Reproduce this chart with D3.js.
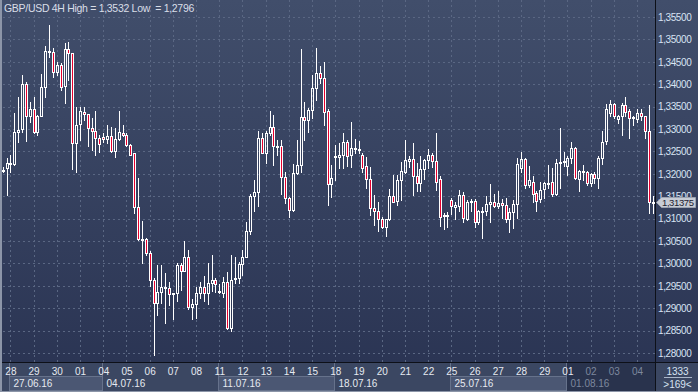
<!DOCTYPE html>
<html>
<head>
<meta charset="utf-8">
<script src="https://cdn.jsdelivr.net/npm/d3@7"></script>
<style>
  html, body { margin: 0; padding: 0; background: #2f3a58; }
  svg { display: block; }
  text { font-family: "Liberation Sans", Arial, sans-serif; }
</style>
</head>
<body>
<svg id="chart" width="698" height="392"></svg>
<script>
// GBP/USD 4H candles, 27.06.16 16:00 .. 04.08.16 16:00
var open = [1.3209,1.3214,1.3223,1.3222,1.3293,1.3299,1.3400,1.3328,1.3344,1.3294,
1.3330,1.3393,1.3471,1.3471,1.3428,1.3442,1.3395,1.3478,1.3469,1.3268,
1.3311,1.3339,1.3333,1.3302,1.3296,1.3281,1.3282,1.3277,1.3284,1.3251,
1.3278,1.3292,1.3287,1.3264,1.3246,1.3127,1.3052,1.3055,1.3023,1.2963,
1.2911,1.2937,1.2948,1.2944,1.2932,1.2933,1.2996,1.2984,1.3014,1.2902,
1.2909,1.2935,1.2947,1.2935,1.2956,1.2963,1.2936,1.2935,1.2959,1.2855,
1.2965,1.2967,1.2998,1.3015,1.3072,1.3150,1.3160,1.3281,1.3247,1.3290,
1.3305,1.3261,1.3262,1.3192,1.3147,1.3119,1.3201,1.3219,1.3326,1.3320,
1.3342,1.3391,1.3424,1.3413,1.3341,1.3177,1.3237,1.3238,1.3242,1.3270,
1.3242,1.3255,1.3254,1.3242,1.3217,1.3188,1.3123,1.3118,1.3100,1.3082,
1.3098,1.3150,1.3139,1.3186,1.3205,1.3229,1.3233,1.3195,1.3180,1.3210,
1.3231,1.3243,1.3229,1.3188,1.3105,1.3107,1.3142,1.3127,1.3129,1.3153,
1.3099,1.3139,1.3139,1.3093,1.3117,1.3116,1.3132,1.3138,1.3129,1.3135,
1.3130,1.3099,1.3114,1.3132,1.3212,1.3232,1.3174,1.3181,1.3158,1.3143,
1.3165,1.3178,1.3181,1.3155,1.3223,1.3226,1.3218,1.3235,1.3257,1.3188,
1.3207,1.3203,1.3179,1.3199,1.3190,1.3235,1.3274,1.3335,1.3355,1.3322,
1.3328,1.3354,1.3341,1.3324,1.3322,1.3335,1.3328,1.3296,1.3136];
var high = [1.3216,1.3235,1.3242,1.3335,1.3371,1.3421,1.3406,1.3361,1.3371,1.3331,
1.3422,1.3485,1.3532,1.3480,1.3450,1.3448,1.3493,1.3494,1.3470,1.3350,
1.3350,1.3350,1.3334,1.3324,1.3341,1.3287,1.3290,1.3309,1.3305,1.3302,
1.3340,1.3309,1.3290,1.3267,1.3247,1.3190,1.3095,1.3056,1.3028,1.2967,
1.2996,1.2996,1.2978,1.2959,1.2935,1.3000,1.3000,1.3049,1.3031,1.2920,
1.2948,1.2959,1.2972,1.3000,1.3019,1.2967,1.2953,1.2970,1.2980,1.3019,
1.3015,1.3004,1.3030,1.3092,1.3156,1.3186,1.3296,1.3290,1.3296,1.3341,
1.3331,1.3275,1.3275,1.3205,1.3149,1.3221,1.3275,1.3479,1.3361,1.3346,
1.3421,1.3480,1.3441,1.3449,1.3344,1.3220,1.3264,1.3268,1.3290,1.3275,
1.3315,1.3278,1.3273,1.3246,1.3238,1.3216,1.3153,1.3138,1.3103,1.3098,
1.3165,1.3197,1.3197,1.3227,1.3275,1.3240,1.3268,1.3225,1.3240,1.3233,
1.3255,1.3247,1.3290,1.3194,1.3113,1.3114,1.3145,1.3136,1.3164,1.3160,
1.3142,1.3144,1.3143,1.3119,1.3125,1.3150,1.3177,1.3155,1.3162,1.3144,
1.3147,1.3123,1.3142,1.3236,1.3249,1.3235,1.3218,1.3194,1.3162,1.3181,
1.3181,1.3220,1.3214,1.3232,1.3303,1.3249,1.3240,1.3272,1.3259,1.3209,
1.3220,1.3206,1.3201,1.3203,1.3240,1.3296,1.3355,1.3365,1.3357,1.3331,
1.3359,1.3371,1.3344,1.3329,1.3344,1.3344,1.3329,1.3354,1.3150];
var low = [1.3203,1.3153,1.3203,1.3220,1.3272,1.3294,1.3274,1.3316,1.3292,1.3287,
1.3328,1.3372,1.3460,1.3417,1.3421,1.3387,1.3359,1.3409,1.3211,1.3205,
1.3275,1.3320,1.3261,1.3253,1.3242,1.3249,1.3272,1.3268,1.3249,1.3238,
1.3275,1.3285,1.3262,1.3242,1.3113,1.3052,1.3000,1.3019,1.2950,1.2796,
1.2885,1.2911,1.2866,1.2907,1.2876,1.2915,1.2941,1.2982,1.2898,1.2877,
1.2879,1.2922,1.2917,1.2909,1.2939,1.2937,1.2933,1.2926,1.2854,1.2850,
1.2956,1.2956,1.2973,1.3014,1.3066,1.3118,1.3129,1.3246,1.3225,1.3287,
1.3220,1.3242,1.3156,1.3134,1.3104,1.3118,1.3200,1.3205,1.3275,1.3294,
1.3324,1.3365,1.3402,1.3309,1.3130,1.3149,1.3186,1.3212,1.3212,1.3218,
1.3216,1.3246,1.3246,1.3203,1.3169,1.3107,1.3086,1.3073,1.3078,1.3062,
1.3097,1.3136,1.3130,1.3142,1.3201,1.3216,1.3153,1.3162,1.3162,1.3188,
1.3212,1.3216,1.3164,1.3084,1.3077,1.3082,1.3110,1.3098,1.3118,1.3093,
1.3097,1.3116,1.3082,1.3087,1.3057,1.3107,1.3093,1.3127,1.3123,1.3102,
1.3093,1.3071,1.3080,1.3102,1.3203,1.3168,1.3171,1.3136,1.3116,1.3138,
1.3147,1.3168,1.3151,1.3153,1.3169,1.3218,1.3197,1.3225,1.3189,1.3162,
1.3186,1.3174,1.3173,1.3179,1.3169,1.3221,1.3267,1.3328,1.3325,1.3314,
1.3287,1.3330,1.3281,1.3309,1.3316,1.3321,1.3279,1.3112,1.3112];
var close = [1.3208,1.3223,1.3224,1.3293,1.3298,1.3400,1.3328,1.3344,1.3294,1.3329,
1.3393,1.3473,1.3474,1.3428,1.3442,1.3393,1.3478,1.3469,1.3268,1.3310,
1.3340,1.3333,1.3302,1.3296,1.3281,1.3267,1.3278,1.3284,1.3251,1.3278,
1.3293,1.3287,1.3264,1.3243,1.3127,1.3054,1.3055,1.3023,1.2963,1.2911,
1.2937,1.2948,1.2944,1.2932,1.2933,1.2996,1.2984,1.3014,1.2902,1.2909,
1.2935,1.2947,1.2935,1.2956,1.2963,1.2953,1.2938,1.2959,1.2855,1.2964,
1.2968,1.2998,1.3014,1.3072,1.3150,1.3160,1.3281,1.3247,1.3290,1.3304,
1.3262,1.3262,1.3192,1.3147,1.3119,1.3201,1.3220,1.3326,1.3320,1.3342,
1.3391,1.3424,1.3413,1.3339,1.3177,1.3190,1.3239,1.3243,1.3270,1.3240,
1.3257,1.3257,1.3255,1.3214,1.3188,1.3123,1.3118,1.3100,1.3082,1.3098,
1.3150,1.3138,1.3186,1.3206,1.3231,1.3234,1.3194,1.3180,1.3210,1.3231,
1.3243,1.3229,1.3181,1.3104,1.3107,1.3105,1.3128,1.3130,1.3153,1.3101,
1.3138,1.3136,1.3093,1.3118,1.3118,1.3133,1.3138,1.3129,1.3135,1.3130,
1.3099,1.3114,1.3133,1.3221,1.3232,1.3175,1.3186,1.3156,1.3140,1.3164,
1.3179,1.3180,1.3156,1.3223,1.3227,1.3228,1.3236,1.3257,1.3190,1.3207,
1.3203,1.3179,1.3199,1.3190,1.3235,1.3272,1.3344,1.3355,1.3328,1.3328,
1.3354,1.3339,1.3325,1.3326,1.3335,1.3328,1.3296,1.3136,1.31375];

var dayLabels = ["28","29","30","01","04","05","06","07","08","11","12","13","14","15",
  "18","19","20","21","22","25","26","27","28","29","01","02","03","04"];
var weekLabels = ["27.06.16","04.07.16","11.07.16","18.07.16","25.07.16","01.08.16"];
var weekFirstDay = [0, 4, 9, 14, 19, 24];   // index into dayLabels
var priceTicks = d3.range(1.28, 1.35501, 0.005);
var title = "GBP/USD 4H High = 1,3532 Low  = 1,2796";
var barsTotal = "1333", barsVisible = ">169<";
var lastPrice = close[close.length - 1];

var svg = d3.select("#chart"),
    width = +svg.attr("width"),
    height = +svg.attr("height");

var plotRight = 655, axisTop = 362, firstDayBar = 2, barsPerDay = 6;
var n = open.length;

var x = d3.scaleLinear().domain([0, n - 1]).range([2.66, 652.5]);
var y = d3.scaleLinear().domain([1.28, 1.355]).range([353, 17]);
var comma = function(v, p) { return d3.format("." + p + "f")(v).replace(".", ","); };
var dayX = function(k) { return x(firstDayBar + k * barsPerDay); };

var defs = svg.append("defs");
var grad = defs.append("linearGradient").attr("id", "bg")
    .attr("x1", 0).attr("y1", 0).attr("x2", 0).attr("y2", 1);
grad.append("stop").attr("offset", "0%").attr("stop-color", "#414e6b");
grad.append("stop").attr("offset", "100%").attr("stop-color", "#2b3554");
defs.append("clipPath").attr("id", "plotclip")
  .append("rect").attr("x", 2).attr("y", 0).attr("width", plotRight - 2).attr("height", axisTop);

// backgrounds
svg.append("rect").attr("width", width).attr("height", axisTop).attr("fill", "url(#bg)");
svg.append("rect").attr("y", axisTop).attr("width", width).attr("height", height - axisTop)
    .attr("fill", "#3b4762");

// grid
var grid = svg.append("g").attr("stroke", "#5a6783").attr("stroke-dasharray", "2,3")
    .attr("stroke-width", 1).attr("shape-rendering", "crispEdges");
grid.selectAll(".hg").data(priceTicks).enter().append("line")
    .attr("x1", 3).attr("x2", plotRight)
    .attr("y1", function(d) { return Math.round(y(d)) + 0.5; })
    .attr("y2", function(d) { return Math.round(y(d)) + 0.5; });
grid.selectAll(".vg").data(dayLabels).enter().append("line")
    .attr("y1", 0).attr("y2", axisTop)
    .attr("x1", function(d, k) { return Math.round(dayX(k)) + 0.5; })
    .attr("x2", function(d, k) { return Math.round(dayX(k)) + 0.5; });

// candles
var bars = d3.range(n).map(function(i) {
  return {i: i, o: open[i], h: high[i], l: low[i], c: close[i]};
});
var cg = svg.append("g").attr("clip-path", "url(#plotclip)").attr("shape-rendering", "crispEdges");
var candle = cg.selectAll(".candle").data(bars).enter().append("g").attr("class", "candle");
function geom(d) {
  var cx = Math.round(x(d.i));
  var top = Math.round(y(Math.max(d.o, d.c)));
  var bot = Math.round(y(Math.min(d.o, d.c)));
  return {cx: cx, top: top, h: Math.max(1, bot - top)};
}
candle.append("line")
    .attr("stroke", "#ffffff")
    .attr("x1", function(d) { return geom(d).cx + 0.5; })
    .attr("x2", function(d) { return geom(d).cx + 0.5; })
    .attr("y1", function(d) { return Math.round(y(d.h)); })
    .attr("y2", function(d) { return geom(d).top; });
candle.append("line")
    .attr("stroke", "#ffffff")
    .attr("x1", function(d) { return geom(d).cx + 0.5; })
    .attr("x2", function(d) { return geom(d).cx + 0.5; })
    .attr("y1", function(d) { var g = geom(d); return g.top + g.h + 1; })
    .attr("y2", function(d) { return Math.round(y(d.l)) + 1; });
candle.append("rect")
    .attr("x", function(d) { return geom(d).cx - 0.5; })
    .attr("y", function(d) { return geom(d).top + 0.5; })
    .attr("width", 2)
    .attr("height", function(d) { return geom(d).h; })
    .attr("fill", function(d) { return d.c >= d.o ? "none" : "#e6002e"; })
    .attr("stroke", "#ffffff");

// title
svg.append("text").attr("x", 4).attr("y", 12)
    .attr("fill", "#d9dee8").attr("font-size", 10.5).attr("letter-spacing", -0.3)
    .style("white-space", "pre").text(title);

// bottom axis: week boxes and separators
var weekEdge = function(w) {
  if (w >= weekFirstDay.length) return plotRight;
  return Math.max(6, Math.round(dayX(weekFirstDay[w]) - 1.5)) + 0.5;
};
var lastWeek = weekLabels.length - 1;
svg.append("rect").attr("x", weekEdge(lastWeek)).attr("y", axisTop + 1)
    .attr("width", plotRight - weekEdge(lastWeek)).attr("height", height - axisTop - 2)
    .attr("fill", "#29334d");
var wk = svg.append("g");
wk.selectAll("rect").data(weekLabels.filter(function(d, w) { return w % 2 === 0 && w < lastWeek; }))
  .enter().append("rect")
    .attr("x", function(d) { return weekEdge(weekLabels.indexOf(d)); })
    .attr("y", 376.5)
    .attr("width", function(d) { var w = weekLabels.indexOf(d); return weekEdge(w + 1) - weekEdge(w); })
    .attr("height", 14)
    .attr("fill", "#4b5773").attr("stroke", "#66728b");
wk.selectAll("line").data(weekLabels).enter().append("line")
    .attr("x1", function(d, w) { return weekEdge(w); })
    .attr("x2", function(d, w) { return weekEdge(w); })
    .attr("y1", axisTop).attr("y2", height - 1)
    .attr("stroke", "#66728b");
wk.selectAll("text").data(weekLabels).enter().append("text")
    .attr("x", function(d, w) { return weekEdge(w) + 4; })
    .attr("y", 383.5).attr("dy", "0.35em")
    .attr("font-size", 10)
    .attr("fill", function(d, w) { return w === lastWeek ? "#7d889e" : "#e6eaf1"; })
    .text(function(d) { return d; });

svg.append("g").selectAll("text").data(dayLabels).enter().append("text")
    .attr("x", function(d, k) { return dayX(k) + 0.5; })
    .attr("y", 371.5).attr("dy", "0.35em")
    .attr("text-anchor", "middle").attr("font-size", 10)
    .attr("fill", function(d, k) { return k > weekFirstDay[lastWeek] ? "#7d889e" : "#e6eaf1"; })
    .text(function(d) { return d; });

// right price axis
var axisG = svg.append("g").attr("transform", "translate(" + (plotRight + 1) + ",0)");
var yAxis = d3.axisRight(y).tickValues(priceTicks).tickSize(0).tickPadding(2)
    .tickFormat(function(d) { return comma(d, 5); });
axisG.call(yAxis);
axisG.select(".domain").remove();
axisG.selectAll("text").attr("fill", "#d8e3f3").attr("font-size", 10).attr("letter-spacing", -0.4)
    .attr("font-family", "Liberation Sans, Arial, sans-serif");

// frame lines
svg.append("line").attr("x1", 0).attr("x2", width).attr("y1", axisTop + 0.5).attr("y2", axisTop + 0.5)
    .attr("stroke", "#0d1018");
svg.append("line").attr("x1", plotRight + 0.5).attr("x2", plotRight + 0.5).attr("y1", 0).attr("y2", height)
    .attr("stroke", "#0d1018");
svg.append("rect").attr("x", 0).attr("y", 0).attr("width", 2).attr("height", height).attr("fill", "#8c95a8");
svg.append("rect").attr("x", 0).attr("y", height - 1).attr("width", width).attr("height", 1).attr("fill", "#8c95a8");

// corner: bar counts
var cx0 = (plotRight + width) / 2 + 1;
svg.append("text").attr("x", cx0).attr("y", 371).attr("dy", "0.35em").attr("text-anchor", "middle")
    .attr("font-size", 10).attr("fill", "#d8e3f3").text(barsTotal);
svg.append("line").attr("x1", 664).attr("x2", 692).attr("y1", 377.5).attr("y2", 377.5).attr("stroke", "#aab6c9");
svg.append("text").attr("x", cx0).attr("y", 384.5).attr("dy", "0.35em").attr("text-anchor", "middle")
    .attr("font-size", 10).attr("fill", "#d8e3f3").text(barsVisible);

// last price tag (drawn over the 1,31500 label, as in the terminal)
var ly = Math.round(y(lastPrice)) + 0.5;
svg.append("path")
    .attr("d", d3.line()([[plotRight + 1.5, ly], [plotRight + 6.5, ly - 5], [695.5, ly - 5], [695.5, ly + 5], [plotRight + 6.5, ly + 5]]) + "Z")
    .attr("fill", "#c7ccd5").attr("stroke", "#9aa2b0");
svg.append("text").attr("x", plotRight + 7).attr("y", ly).attr("dy", "0.35em")
    .attr("font-size", 9.5).attr("letter-spacing", -0.4).attr("fill", "#1c2232").text(comma(lastPrice, 5));
</script>
</body>
</html>
